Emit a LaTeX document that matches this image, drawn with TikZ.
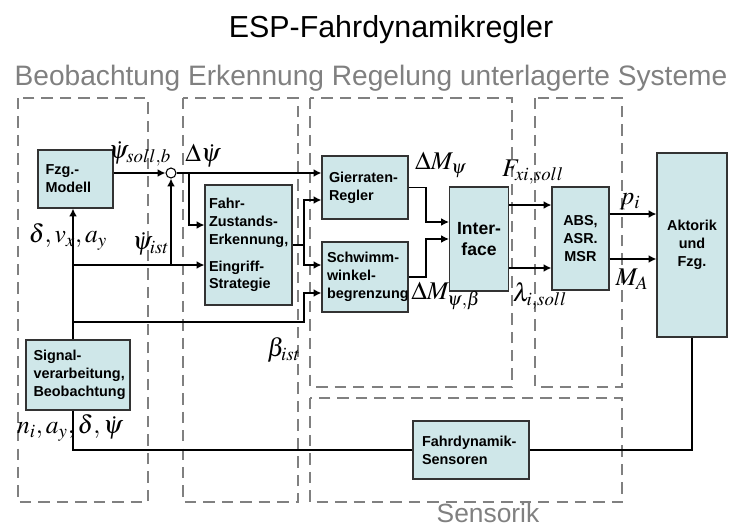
\documentclass[tikz,border=0pt]{standalone}
\usepackage{mathptmx}
\usepackage[no-math]{fontspec}
\setmainfont{Liberation Sans}
\usetikzlibrary{arrows.meta}

\definecolor{boxfill}{RGB}{207,231,233}
\definecolor{framegray}{RGB}{128,128,128}

\tikzset{
  blk/.style={draw=black!80, fill=boxfill, line width=0.6pt, inner xsep=0.15cm,
    font=\fontsize{8.2}{10.2}\selectfont\bfseries, align=left},
  blkc/.style={blk, align=center},
  dashframe/.style={draw=framegray, line width=0.8pt, dash pattern=on 6.5pt off 4pt},
  sig/.style={line width=1.1pt, -{Latex[length=4.5pt,width=4.5pt]}},
  wire/.style={line width=1.1pt},
  lbl/.style={font=\fontsize{14.5}{17}\selectfont, inner sep=0pt},
  hdr/.style={text=framegray, font=\fontsize{16}{19}\selectfont, inner sep=0pt}
}

\begin{document}
\begin{tikzpicture}[x=0.02cm, y=-0.02cm]
  \useasboundingbox (0,0) rectangle (738,528);

  % Titel und Bereiche
  \node[font=\fontsize{17.3}{20}\selectfont, inner sep=0pt] (titel) at (391,30) {ESP-Fahrdynamikregler};
  \node[hdr] (kopf) at (371,78) {Beobachtung Erkennung Regelung unterlagerte Systeme};
  \node[hdr, font=\fontsize{15}{18}\selectfont] (sensorik) at (488,513) {Sensorik};

  \draw[dashframe] (18,98) rectangle (148,502);   % Beobachtung
  \draw[dashframe] (183,98) rectangle (298,502);  % Erkennung
  \draw[dashframe] (310,98) rectangle (512,387);  % Regelung
  \draw[dashframe] (535,98) rectangle (622,387);  % unterlagerte Systeme
  \draw[dashframe] (310,398) rectangle (622,502); % Sensorik

  % Bloecke
  \node[blk, text width=1.2cm, minimum height=1.16cm] (modell) at (75.5,179) {Fzg.-\\Modell};
  \node[blk, inner xsep=0.08cm, text width=1.58cm, minimum height=2.4cm] (zustand) at (248.5,245)
    {Fahr-\\Zustands-\\Erkennung,\\[5pt]Eingriff-\\Strategie};
  \node[blk, inner xsep=0.14cm, text width=1.44cm, minimum height=1.26cm] (gier) at (365,187.5) {Gierraten-\\Regler};
  \node[blk, inner xsep=0.1cm, text width=1.52cm, minimum height=1.4cm] (schwimm) at (365,277) {Schwimm-\\winkel-\\begrenzung};
  \node[blkc, font=\fontsize{10}{12}\selectfont\bfseries, minimum width=1.04cm, minimum height=2.08cm] (iface) at (479,239) {Inter-\\face};
  \node[blkc, minimum width=1.14cm, minimum height=2.06cm] (abs) at (580.5,238.5) {ABS,\\ASR.\\MSR};
  \node[blkc, minimum width=1.4cm, minimum height=3.68cm] (aktorik) at (692,245) {Aktorik\\und\\Fzg.};
  \node[blk, text width=1.78cm, minimum height=1.4cm] (signal) at (78,375) {Signal-\\verarbeitung,\\Beobachtung};
  \node[blk, inner xsep=0.18cm, text width=1.96cm, minimum height=1.16cm] (sensor) at (471,450) {Fahrdynamik-\\Sensoren};
  \node[draw, fill=white, circle, line width=0.6pt, minimum size=0.2cm, inner sep=0pt] (sum) at (171,173) {};

  % Hilfspunkte
  \coordinate (trunk) at (73,0);
  \coordinate (dpsi) at (189,173);
  \coordinate (ist) at (73,265);
  \coordinate (beta) at (73,322);
  \coordinate (fork) at (304,245);
  \coordinate (mx) at (426,0);

  % Verbindungen
  \draw[sig] (sum.west -| modell.east) -- (sum.west);
  \draw[sig] (sum.east) -- (sum.east -| gier.west);
  \draw[sig] (dpsi) |- ([yshift=0.4cm]zustand.west);
  \draw[sig] (signal.north -| trunk) -- (modell.south -| trunk);
  \draw[sig] (ist) -- (ist -| zustand.west);
  \draw[sig] (ist -| sum) -- (sum.south);
  \draw[sig] (beta) -| ([yshift=-0.32cm]schwimm.west -| fork) -- ([yshift=-0.32cm]schwimm.west);
  \draw[wire] (zustand.east) -- (fork);
  \draw[sig] (fork) |- ([yshift=-0.25cm]gier.west);
  \draw[sig] (fork) |- ([yshift=0.24cm]schwimm.west);
  \draw[sig] (gier.east) -| ([yshift=0.34cm]iface.west -| mx) -- ([yshift=0.34cm]iface.west);
  \draw[sig] (schwimm.east) -| (iface.west -| mx) -- (iface.west);
  \draw[sig] ([yshift=0.68cm]iface.east) -- ([yshift=0.68cm]iface.east -| abs.west);
  \draw[sig] ([yshift=-0.58cm]iface.east) -- ([yshift=-0.58cm]iface.east -| abs.west);
  \draw[sig] ([yshift=0.49cm]abs.east) -- ([yshift=0.49cm]abs.east -| aktorik.west);
  \draw[sig] ([yshift=-0.41cm]abs.east) -- ([yshift=-0.41cm]abs.east -| aktorik.west);
  \draw[wire] (signal.south -| trunk) |- (sensor.west);
  \draw[wire] (sensor.east) -| (aktorik.south);

  % Signalnamen
  \node[lbl] (psisoll) at (140,154) {$\dot\psi_{soll,b}$};
  \node[lbl] (dpsilbl) at (203,156) {$\Delta\dot\psi$};
  \node[lbl] (dva) at (68,237) {$\delta,v_x,a_y$};
  \node[lbl] (psiist) at (151,244) {$\dot\psi_{ist}$};
  \node[lbl] (betaist) at (284,350) {$\beta_{ist}$};
  \node[lbl] (dmpsi) at (441,165) {$\Delta M_\psi$};
  \node[lbl] (dmpb) at (446,296) {$\Delta M_{\psi,\beta}$};
  \node[lbl] (fxi) at (533,172) {$F_{xi,soll}$};
  \node[lbl] (lam) at (540,296) {$\lambda_{i,soll}$};
  \node[lbl] (pilbl) at (630,202) {$p_i$};
  \node[lbl] (malbl) at (632,279) {$M_A$};
  \node[lbl] (nay) at (70,428) {$n_i,a_y,\delta,\dot\psi$};
\end{tikzpicture}
\end{document}
